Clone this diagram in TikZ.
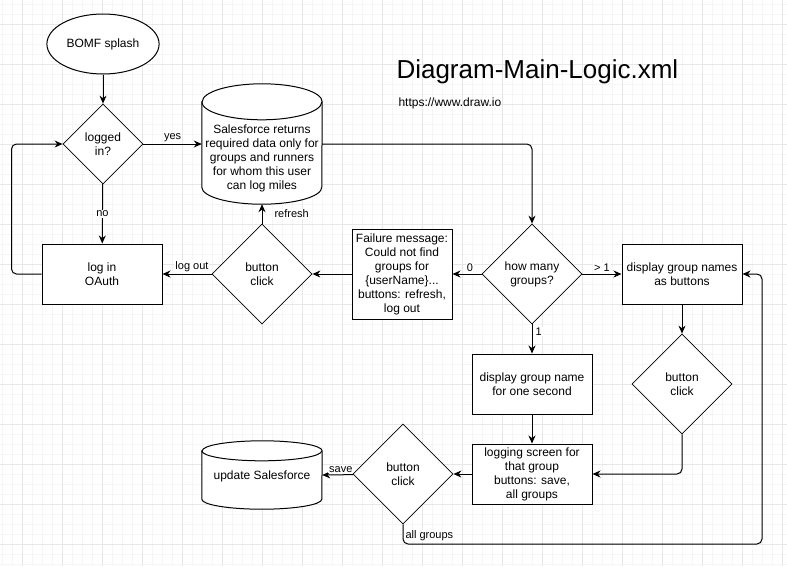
\documentclass[tikz,border=0pt]{standalone}
\usepackage{fontspec}
\setmainfont{Liberation Sans}
\usetikzlibrary{shapes.geometric, arrows.meta, positioning}
\definecolor{gridminor}{RGB}{245,245,245}
\definecolor{gridmajor}{RGB}{231,231,231}
\tikzset{
    shapetext/.style={align=center, font=\fontsize{12}{14}\selectfont},
    startnode/.style={ellipse, draw, fill=white, line width=1pt, minimum width=100, minimum height=60, shapetext},
    stepbox/.style={rectangle, draw, fill=white, line width=1pt, minimum width=120, minimum height=60, inner sep=2pt, shapetext},
    decision/.style={diamond, draw, fill=white, line width=0.8pt, minimum width=100, minimum height=100, inner sep=0pt, shapetext},
    dbnode/.style={rectangle, minimum width=120, inner sep=0pt},
    dbshape/.style={draw, fill=white, line width=1pt},
    dbtext/.style={shapetext, inner sep=0pt},
    flow/.style={line width=1pt, -{Stealth[length=8pt, width=7pt]}},
    edgelabel/.style={font=\fontsize{11}{13}\selectfont, fill=white, inner sep=1pt}
}

\begin{document}
\begin{tikzpicture}[x=1pt, y=-1pt]
    % page and grid
    \fill[white] (0,0) rectangle (787,566);
    \useasboundingbox (0,0) rectangle (787,566);
    \foreach \gx in {2,12,...,782} \draw[gridminor] (\gx,0) -- (\gx,566);
    \foreach \gy in {4,14,...,564} \draw[gridminor] (0,\gy) -- (787,\gy);
    \foreach \gx in {22,62,...,782} \draw[gridmajor] (\gx,0) -- (\gx,566);
    \foreach \gy in {24,64,...,564} \draw[gridmajor] (0,\gy) -- (787,\gy);

    % title
    \node[anchor=west, font=\fontsize{26}{30}\selectfont] (title) at (393,72) {Diagram-Main-Logic.xml};
    \node[anchor=west, font=\fontsize{12}{14}\selectfont] (url) at (395,103) {https://www.draw.io};

    % left column
    \node[startnode] (splash) at (103,44) {BOMF splash};
    \node[decision, minimum width=80, minimum height=80] (loggedin) at (103,144) {logged\\in?};
    \node[stepbox] (login) at (102,274) {log in\\OAuth};

    % salesforce data (cylinder)
    \node[dbnode, minimum height=120] (sfdata) at (262,144) {};
    \draw[dbshape] ([yshift=-18pt]sfdata.north west) -- ([yshift=17pt]sfdata.south west)
        arc[start angle=180, end angle=360, x radius=60pt, y radius=17pt]
        -- ([yshift=-18pt]sfdata.north east)
        arc[start angle=0, end angle=180, x radius=60pt, y radius=18pt] -- cycle;
    \draw[line width=1pt] ([yshift=-18pt]sfdata.north west) arc[start angle=180, end angle=360, x radius=60pt, y radius=18pt];
    \node[dbtext] (sfdatatext) at ([yshift=-14pt]sfdata.center) {Salesforce returns\\required data only for\\groups and runners\\for whom this user\\can log miles};

    % failure path
    \node[decision] (click1) at (262,274) {button\\click};
    \node[stepbox, minimum width=100, minimum height=90] (failure) at (402,274) {Failure message:\\Could not find\\groups for\\\{userName\}...\\buttons: refresh,\\log out};

    % groups
    \node[decision] (howmany) at (532,274) {how many\\groups?};
    \node[stepbox] (names) at (682,274) {display group names\\as buttons};
    \node[decision] (click2) at (682,384) {button\\click};
    \node[stepbox] (onename) at (532,384) {display group name\\for one second};
    \node[stepbox] (logging) at (532,474) {logging screen for\\that group\\buttons: save,\\all groups};
    \node[decision] (click3) at (403,474) {button\\click};

    % update salesforce (cylinder)
    \node[dbnode, minimum height=68] (update) at (262,475) {};
    \draw[dbshape] ([yshift=-10pt]update.north west) -- ([yshift=10pt]update.south west)
        arc[start angle=180, end angle=360, x radius=60pt, y radius=10pt]
        -- ([yshift=-10pt]update.north east)
        arc[start angle=0, end angle=180, x radius=60pt, y radius=10pt] -- cycle;
    \draw[line width=1pt] ([yshift=-10pt]update.north west) arc[start angle=180, end angle=360, x radius=60pt, y radius=10pt];
    \node[dbtext] (updatetext) at ([yshift=-1pt]update.center) {update Salesforce};
    \coordinate (allgrp) at (762,544);

    % connectors
    \draw[flow] (splash) -- (loggedin);
    \draw[flow] (loggedin.east) -- node[edgelabel, above=1pt] {yes} (sfdata.west);
    \draw[flow] (loggedin) -- node[edgelabel] {no} (login);
    \draw[flow, rounded corners=5pt] (login.west) -- ++(-30,0) |- (loggedin.west);
    \draw[flow, rounded corners=5pt] (sfdata.east) -| (howmany.north);
    \draw[flow] (howmany) -- node[edgelabel, above=1pt, pos=0.4] {0} (failure);
    \draw[flow] (failure) -- (click1);
    \draw[flow] (click1) -- node[edgelabel, above=1pt, pos=0.4] {log out} (login);
    \draw[flow] (click1.north) -- node[edgelabel, right=11pt] {refresh} (sfdata.south);
    \draw[flow] (howmany) -- node[edgelabel, above=1pt] {> 1} (names);
    \draw[flow] (howmany) -- node[edgelabel, right=2pt, pos=0.25] {1} (onename);
    \draw[flow] (names) -- (click2);
    \draw[flow] (onename) -- (logging);
    \draw[flow, rounded corners=5pt] (click2.south) |- (logging.east);
    \draw[flow] (logging) -- (click3);
    \draw[flow] (click3) -- node[edgelabel, above=1pt, pos=0.4] {save} (update.east);
    \draw[flow, rounded corners=5pt] (click3.south) |- node[edgelabel, right=1pt, pos=0.28] {all groups} (allgrp) |- (names.east);
\end{tikzpicture}
\end{document}
